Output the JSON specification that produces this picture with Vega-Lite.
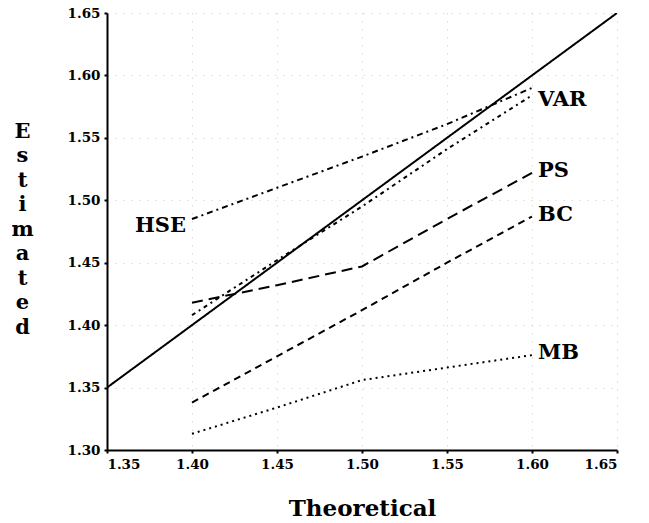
{
  "$schema": "https://vega.github.io/schema/vega-lite/v6.json",
  "width": 510,
  "height": 437,
  "autosize": {"type": "none"},
  "padding": {"left": 107, "top": 13, "right": 32, "bottom": 73},
  "background": "white",
  "config": {
    "view": {"stroke": null},
    "font": "DejaVu Serif",
    "text": {"font": "DejaVu Serif", "fontWeight": "bold", "fontSize": 21, "color": "black"}
  },
  "datasets": {
    "curves": [
      {"series": "Identity", "theoretical": 1.35, "estimated": 1.35},
      {"series": "Identity", "theoretical": 1.65, "estimated": 1.65},
      {"series": "HSE", "theoretical": 1.40, "estimated": 1.485},
      {"series": "HSE", "theoretical": 1.45, "estimated": 1.510},
      {"series": "HSE", "theoretical": 1.50, "estimated": 1.535},
      {"series": "HSE", "theoretical": 1.55, "estimated": 1.561},
      {"series": "HSE", "theoretical": 1.60, "estimated": 1.590},
      {"series": "VAR", "theoretical": 1.40, "estimated": 1.408},
      {"series": "VAR", "theoretical": 1.45, "estimated": 1.452},
      {"series": "VAR", "theoretical": 1.50, "estimated": 1.495},
      {"series": "VAR", "theoretical": 1.55, "estimated": 1.541},
      {"series": "VAR", "theoretical": 1.60, "estimated": 1.584},
      {"series": "PS", "theoretical": 1.40, "estimated": 1.418},
      {"series": "PS", "theoretical": 1.45, "estimated": 1.432},
      {"series": "PS", "theoretical": 1.50, "estimated": 1.447},
      {"series": "PS", "theoretical": 1.55, "estimated": 1.485},
      {"series": "PS", "theoretical": 1.60, "estimated": 1.522},
      {"series": "BC", "theoretical": 1.40, "estimated": 1.338},
      {"series": "BC", "theoretical": 1.45, "estimated": 1.375},
      {"series": "BC", "theoretical": 1.50, "estimated": 1.412},
      {"series": "BC", "theoretical": 1.55, "estimated": 1.450},
      {"series": "BC", "theoretical": 1.60, "estimated": 1.487},
      {"series": "MB", "theoretical": 1.40, "estimated": 1.313},
      {"series": "MB", "theoretical": 1.45, "estimated": 1.334},
      {"series": "MB", "theoretical": 1.50, "estimated": 1.356},
      {"series": "MB", "theoretical": 1.55, "estimated": 1.366},
      {"series": "MB", "theoretical": 1.60, "estimated": 1.376}
    ],
    "labels": [
      {"series": "HSE", "theoretical": 1.40, "estimated": 1.485},
      {"series": "VAR", "theoretical": 1.60, "estimated": 1.584},
      {"series": "PS", "theoretical": 1.60, "estimated": 1.522},
      {"series": "BC", "theoretical": 1.60, "estimated": 1.487},
      {"series": "MB", "theoretical": 1.60, "estimated": 1.376}
    ]
  },
  "layer": [
    {
      "data": {"name": "curves"},
      "mark": {"type": "line", "strokeWidth": 2, "color": "black", "clip": true},
      "encoding": {
        "x": {
          "field": "theoretical",
          "type": "quantitative",
          "scale": {"domain": [1.35, 1.65], "nice": false, "zero": false},
          "axis": {
            "values": [1.35, 1.40, 1.45, 1.50, 1.55, 1.60, 1.65],
            "format": ".2f",
            "title": "Theoretical",
            "titleFont": "DejaVu Serif",
            "titleFontWeight": "bold",
            "titleFontSize": 23,
            "titleColor": "black",
            "titleBaseline": "alphabetic",
            "titleY": 65,
            "labelFont": "DejaVu Serif",
            "labelFontWeight": "bold",
            "labelFontSize": 13.5,
            "labelColor": "black",
            "labelPadding": 4,
            "domainColor": "black",
            "domainWidth": 2,
            "tickColor": "black",
            "tickSize": 3,
            "tickWidth": 2,
            "grid": true,
            "gridColor": "#c8c8c8",
            "gridDash": [1, 7]
          }
        },
        "y": {
          "field": "estimated",
          "type": "quantitative",
          "scale": {"domain": [1.30, 1.65], "nice": false, "zero": false},
          "axis": {
            "values": [1.30, 1.35, 1.40, 1.45, 1.50, 1.55, 1.60, 1.65],
            "format": ".2f",
            "title": ["E", "s", "t", "i", "m", "a", "t", "e", "d"],
            "titleFont": "DejaVu Serif",
            "titleFontWeight": "bold",
            "titleFontSize": 21,
            "titleColor": "black",
            "titleAngle": 0,
            "titleAlign": "center",
            "titleBaseline": "top",
            "titleLineHeight": 24.5,
            "titleX": -85,
            "titleY": 107,
            "labelFont": "DejaVu Serif",
            "labelFontWeight": "bold",
            "labelFontSize": 13.5,
            "labelColor": "black",
            "labelPadding": 4,
            "domainColor": "black",
            "domainWidth": 2,
            "tickColor": "black",
            "tickSize": 3,
            "tickWidth": 2,
            "grid": true,
            "gridColor": "#c8c8c8",
            "gridDash": [1, 7]
          }
        },
        "detail": {"field": "series", "type": "nominal"},
        "strokeDash": {
          "field": "series",
          "type": "nominal",
          "scale": {
            "domain": ["Identity", "HSE", "VAR", "PS", "BC", "MB"],
            "range": [[1, 0], [6, 4, 2, 4], [4, 4, 2, 4], [11, 6], [7, 5], [2, 4]]
          },
          "legend": null
        }
      }
    },
    {
      "data": {"name": "labels"},
      "transform": [{"filter": "datum.series === 'HSE'"}],
      "mark": {"type": "text", "align": "right", "baseline": "middle", "dx": -6, "dy": 7},
      "encoding": {
        "x": {"field": "theoretical", "type": "quantitative"},
        "y": {"field": "estimated", "type": "quantitative"},
        "text": {"field": "series"}
      }
    },
    {
      "data": {"name": "labels"},
      "transform": [{"filter": "datum.series === 'VAR'"}],
      "mark": {"type": "text", "align": "left", "baseline": "middle", "dx": 6, "dy": 5},
      "encoding": {
        "x": {"field": "theoretical", "type": "quantitative"},
        "y": {"field": "estimated", "type": "quantitative"},
        "text": {"field": "series"}
      }
    },
    {
      "data": {"name": "labels"},
      "transform": [{"filter": "datum.series !== 'VAR' && datum.series !== 'HSE'"}],
      "mark": {"type": "text", "align": "left", "baseline": "middle", "dx": 6, "dy": -2},
      "encoding": {
        "x": {"field": "theoretical", "type": "quantitative"},
        "y": {"field": "estimated", "type": "quantitative"},
        "text": {"field": "series"}
      }
    }
  ]
}
